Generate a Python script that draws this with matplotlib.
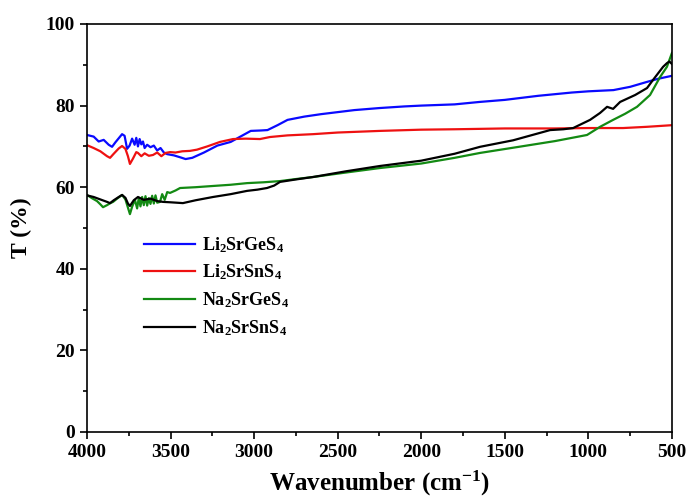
import matplotlib
matplotlib.use("Agg")
import matplotlib.pyplot as plt
from matplotlib.ticker import MultipleLocator

# wavenumber (cm-1) / transmittance (%)
li_ge_x = [4000, 3960, 3930, 3900, 3870, 3850, 3830, 3810, 3790, 3775, 3760, 3745, 3730, 3715, 3705,
           3695, 3685, 3675, 3665, 3655, 3640, 3620, 3600, 3580, 3560, 3540, 3520, 3480, 3440, 3410,
           3370, 3300, 3220, 3140, 3060, 3020, 2960, 2920, 2860, 2800, 2700, 2600, 2500, 2400, 2250,
           2100, 2000, 1800, 1650, 1500, 1300, 1100, 1000, 850, 750, 650, 580, 500]
li_ge_y = [72.8, 72.4, 71.2, 71.6, 70.4, 69.9, 71.0, 72.0, 73.0, 72.6, 69.4, 70.2, 71.9, 70.4, 72.1,
           70.0, 71.8, 70.5, 71.2, 69.6, 70.4, 69.8, 70.2, 69.0, 69.6, 68.5, 68.1, 67.8, 67.3, 66.9,
           67.2, 68.5, 70.2, 71.1, 72.9, 73.8, 73.9, 74.0, 75.2, 76.5, 77.3, 77.9, 78.4, 78.9, 79.4,
           79.8, 80.0, 80.3, 80.9, 81.4, 82.4, 83.2, 83.5, 83.8, 84.6, 85.8, 86.6, 87.3]

li_sn_x = [4000, 3960, 3920, 3880, 3862, 3840, 3810, 3790, 3770, 3755, 3743, 3725, 3705, 3695, 3675,
           3655, 3630, 3605, 3580, 3555, 3530, 3503, 3470, 3430, 3384, 3342, 3280, 3204, 3126, 3050,
           2965, 2905, 2800, 2647, 2500, 2247, 2000, 1800, 1648, 1500, 1200, 1000, 792, 650, 500]
li_sn_y = [70.3, 69.6, 68.8, 67.6, 67.2, 68.2, 69.5, 70.1, 69.4, 67.6, 65.7, 67.0, 68.6, 68.4, 67.6,
           68.3, 67.7, 67.9, 68.5, 67.6, 68.4, 68.6, 68.5, 68.8, 68.9, 69.2, 70.0, 71.1, 71.8, 71.9,
           71.8, 72.3, 72.7, 73.0, 73.4, 73.8, 74.1, 74.2, 74.3, 74.4, 74.4, 74.5, 74.5, 74.8, 75.2]

na_ge_x = [4000, 3970, 3940, 3920, 3904, 3880, 3860, 3844, 3820, 3790, 3770, 3755, 3743, 3730, 3713,
           3700, 3690, 3680, 3670, 3660, 3650, 3640, 3630, 3620, 3610, 3600, 3590, 3580, 3563, 3550,
           3535, 3520, 3503, 3470, 3443, 3350, 3246, 3140, 3042, 2945, 2845, 2750, 2647, 2450, 2247,
           2000, 1800, 1648, 1400, 1200, 1008, 930, 852, 780, 709, 631, 571, 530, 500]
na_ge_y = [58.1, 57.3, 56.6, 55.8, 55.1, 55.6, 56.1, 56.4, 57.2, 58.1, 57.0, 55.0, 53.4, 55.2, 56.9,
           54.8, 57.4, 55.3, 57.6, 55.6, 57.8, 55.5, 57.3, 55.9, 57.9, 56.0, 58.0, 56.2, 56.4, 58.3,
           56.9, 58.8, 58.6, 59.2, 59.8, 60.0, 60.3, 60.6, 61.0, 61.2, 61.5, 62.0, 62.5, 63.6, 64.7,
           65.8, 67.2, 68.4, 70.0, 71.3, 72.8, 74.8, 76.5, 78.0, 79.7, 82.6, 87.0, 89.5, 92.9]

na_sn_x = [4000, 3960, 3920, 3880, 3862, 3840, 3810, 3790, 3770, 3755, 3743, 3720, 3695, 3660, 3620,
           3580, 3545, 3500, 3426, 3350, 3246, 3140, 3042, 2980, 2923, 2880, 2845, 2750, 2647, 2450,
           2247, 2000, 1800, 1648, 1450, 1229, 1150, 1091, 990, 930, 888, 852, 810, 720, 649, 613,
           553, 530, 515, 500]
na_sn_y = [58.0, 57.6, 57.0, 56.4, 56.1, 56.8, 57.6, 58.1, 57.4, 56.0, 55.4, 56.8, 57.6, 56.9, 57.2,
           56.6, 56.4, 56.3, 56.1, 56.8, 57.6, 58.3, 59.1, 59.4, 59.8, 60.4, 61.3, 61.9, 62.5, 63.9,
           65.2, 66.5, 68.2, 69.9, 71.5, 74.0, 74.2, 74.5, 76.5, 78.2, 79.7, 79.2, 80.9, 82.6, 84.3,
           86.3, 89.5, 90.4, 90.8, 90.2]

series_names = ["Li$_2$SrGeS$_4$", "Li$_2$SrSnS$_4$", "Na$_2$SrGeS$_4$", "Na$_2$SrSnS$_4$"]
series_colors = ["#0a0aff", "#ee1111", "#138a13", "#000000"]

plt.rcParams["font.family"] = "Liberation Serif"
plt.rcParams["font.weight"] = "bold"
plt.rcParams["mathtext.fontset"] = "custom"
plt.rcParams["mathtext.rm"] = "Liberation Serif:bold"
plt.rcParams["mathtext.it"] = "Liberation Serif:bold"
plt.rcParams["mathtext.bf"] = "Liberation Serif:bold"
plt.rcParams["mathtext.default"] = "rm"

fig = plt.figure(figsize=(6.92, 5.0), dpi=100)
ax = fig.add_axes([0.1257, 0.136, 0.8453, 0.816])

xs = [li_ge_x, li_sn_x, na_ge_x, na_sn_x]
ys = [li_ge_y, li_sn_y, na_ge_y, na_sn_y]
for x, y, name, color in zip(xs, ys, series_names, series_colors):
    ax.plot(x, y, color=color, lw=1.6, label=name)

ax.set_xlim(4000, 500)
ax.set_ylim(0, 100)
ax.xaxis.set_major_locator(MultipleLocator(500))
ax.xaxis.set_minor_locator(MultipleLocator(250))
ax.yaxis.set_major_locator(MultipleLocator(20))
ax.yaxis.set_minor_locator(MultipleLocator(10))
ax.tick_params(which="both", direction="out", top=False, right=False, labelsize=14, width=1.2)
ax.tick_params(which="major", length=5)
ax.tick_params(which="minor", length=3)
for spine in ax.spines.values():
    spine.set_linewidth(1.2)
for lbl in ax.get_xticklabels() + ax.get_yticklabels():
    lbl.set_fontweight("bold")

ax.set_xlabel("Wavenumber (cm$^{-1}$)", fontsize=18, fontweight="bold", labelpad=6)
ax.set_ylabel("T (%)", fontsize=17, fontweight="bold", labelpad=10)

leg = ax.legend(loc="upper left", bbox_to_anchor=(0.07, 0.523), frameon=False, fontsize=13,
                handlelength=2.8, handletextpad=0.4, labelspacing=0.45)
for t in leg.get_texts():
    t.set_fontweight("bold")

fig.savefig("out.png", dpi=100)
